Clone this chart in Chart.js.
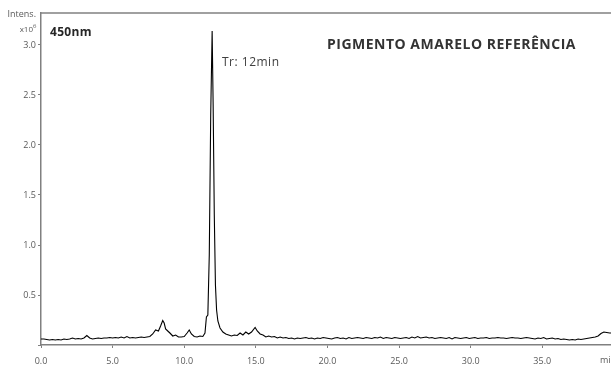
<!DOCTYPE html>
<html>
<head>
<meta charset="utf-8">
<script src="https://cdn.jsdelivr.net/npm/chart.js@4.4.1/dist/chart.umd.min.js"></script>
<style>
  html, body { margin: 0; padding: 0; background: #fff; }
  #chrom { display: block; }
</style>
</head>
<body>
<canvas id="chrom" width="611" height="365"></canvas>
<script>
// retention time (min) and intensity (x10^6)
const retentionTimes = [
  0.0, 0.2, 0.4, 0.6, 0.8, 1.0, 1.2, 1.4, 1.6, 1.8,
  2.0, 2.2, 2.4, 2.6, 2.8, 3.0, 3.2, 3.4, 3.6, 3.8,
  4.0, 4.2, 4.4, 4.6, 4.8, 5.0, 5.2, 5.4, 5.6, 5.8,
  6.0, 6.2, 6.4, 6.6, 6.8, 7.0, 7.2, 7.4, 7.6, 7.8,
  8.0, 8.2, 8.35, 8.5, 8.6, 8.7, 8.85, 9.0, 9.2, 9.4,
  9.6, 9.8, 10.0, 10.2, 10.35, 10.5, 10.7, 10.9, 11.1, 11.3,
  11.45, 11.55, 11.65, 11.75, 11.85, 11.95, 12.02, 12.1, 12.18, 12.26,
  12.35, 12.5, 12.7, 12.9, 13.1, 13.3, 13.5, 13.7, 13.9, 14.1,
  14.3, 14.5, 14.7, 14.95, 15.1, 15.3, 15.5, 15.7, 15.9, 16.1,
  16.3, 16.5, 16.7, 16.9, 17.1, 17.3, 17.5, 17.7, 17.9, 18.1,
  18.3, 18.5, 18.7, 18.9, 19.1, 19.3, 19.5, 19.7, 19.9, 20.1,
  20.3, 20.5, 20.7, 20.9, 21.1, 21.3, 21.5, 21.7, 21.9, 22.1,
  22.3, 22.5, 22.7, 22.9, 23.1, 23.3, 23.5, 23.7, 23.9, 24.1,
  24.3, 24.5, 24.7, 24.9, 25.1, 25.3, 25.5, 25.7, 25.9, 26.1,
  26.3, 26.5, 26.7, 26.9, 27.1, 27.3, 27.5, 27.7, 27.9, 28.1,
  28.3, 28.5, 28.7, 28.9, 29.1, 29.3, 29.5, 29.7, 29.9, 30.1,
  30.3, 30.5, 30.7, 30.9, 31.1, 31.3, 31.5, 31.7, 31.9, 32.1,
  32.3, 32.5, 32.7, 32.9, 33.1, 33.3, 33.5, 33.7, 33.9, 34.1,
  34.3, 34.5, 34.7, 34.9, 35.1, 35.3, 35.5, 35.7, 35.9, 36.1,
  36.3, 36.5, 36.7, 36.9, 37.1, 37.3, 37.5, 37.7, 37.9, 38.1,
  38.3, 38.5, 38.7, 38.9, 39.1, 39.3, 39.5, 39.7, 39.9
];
const intensities = [
  0.06, 0.06, 0.055, 0.05, 0.055, 0.05, 0.055, 0.05, 0.06, 0.055,
  0.06, 0.07, 0.06, 0.065, 0.06, 0.07, 0.095, 0.07, 0.06, 0.065,
  0.07, 0.065, 0.07, 0.07, 0.075, 0.07, 0.075, 0.07, 0.08, 0.07,
  0.085, 0.07, 0.075, 0.07, 0.075, 0.08, 0.075, 0.08, 0.085, 0.11,
  0.15, 0.14, 0.19, 0.245, 0.22, 0.16, 0.14, 0.12, 0.09, 0.10,
  0.08, 0.08, 0.085, 0.12, 0.15, 0.11, 0.085, 0.08, 0.09, 0.085,
  0.12, 0.28, 0.30, 0.9, 2.3, 3.14, 2.4, 1.3, 0.6, 0.35,
  0.24, 0.17, 0.13, 0.11, 0.10, 0.09, 0.10, 0.095, 0.12, 0.10,
  0.13, 0.11, 0.13, 0.175, 0.14, 0.11, 0.10, 0.08, 0.09, 0.08,
  0.085, 0.07, 0.08, 0.07, 0.075, 0.065, 0.07, 0.06, 0.07, 0.065,
  0.07, 0.075, 0.065, 0.07, 0.06, 0.07, 0.065, 0.075, 0.07, 0.065,
  0.06, 0.07, 0.075, 0.065, 0.07, 0.06, 0.075, 0.065, 0.07, 0.075,
  0.07, 0.065, 0.075, 0.07, 0.065, 0.075, 0.07, 0.08, 0.065, 0.075,
  0.07, 0.065, 0.075, 0.07, 0.065, 0.07, 0.075, 0.065, 0.08, 0.07,
  0.085, 0.07, 0.075, 0.08, 0.07, 0.075, 0.065, 0.07, 0.075, 0.07,
  0.065, 0.075, 0.06, 0.075, 0.07, 0.065, 0.07, 0.075, 0.065, 0.07,
  0.075, 0.065, 0.07, 0.07, 0.075, 0.065, 0.07, 0.07, 0.075, 0.07,
  0.07, 0.065, 0.07, 0.075, 0.07, 0.07, 0.065, 0.07, 0.075, 0.07,
  0.065, 0.06, 0.07, 0.065, 0.075, 0.06, 0.065, 0.07, 0.06, 0.065,
  0.055, 0.06, 0.055, 0.05, 0.055, 0.05, 0.06, 0.055, 0.06, 0.065,
  0.07, 0.075, 0.08, 0.09, 0.115, 0.13, 0.125, 0.12, 0.12
];
const xTicks = [0, 5, 10, 15, 20, 25, 30, 35];
const yTicks = [0, 0.5, 1.0, 1.5, 2.0, 2.5, 3.0];

const FONT = '"Open Sans", Lato, sans-serif';
const AXIS_GREY = '#808080';
const LABEL_GREY = '#595959';

// text that sits on top of the plot: units, wavelength, title, peak note
const overlayText = {
  id: 'overlayText',
  afterDraw(chart) {
    const ctx = chart.ctx;
    const area = chart.chartArea;
    ctx.save();

    // top frame line
    ctx.strokeStyle = AXIS_GREY;
    ctx.lineWidth = 1.5;
    ctx.beginPath();
    ctx.moveTo(area.left, area.top);
    ctx.lineTo(area.right, area.top);
    ctx.stroke();

    ctx.fillStyle = LABEL_GREY;
    ctx.textBaseline = 'middle';
    ctx.textAlign = 'right';
    ctx.font = '9px ' + FONT;
    ctx.fillText('Intens.', 36, 14);
    ctx.font = '8px ' + FONT;
    ctx.fillText('x10', 33, 30);
    ctx.font = '6px ' + FONT;
    ctx.textAlign = 'left';
    ctx.fillText('6', 33, 26);

    ctx.font = '9px ' + FONT;
    ctx.textAlign = 'left';
    ctx.fillText('min', 600, 360);

    ctx.fillStyle = '#262626';
    ctx.font = 'bold 12px ' + FONT;
    ctx.letterSpacing = '0.3px';
    ctx.fillText('450nm', 50, 33);

    ctx.fillStyle = '#333333';
    ctx.font = 'bold 14px ' + FONT;
    ctx.letterSpacing = '0.5px';
    ctx.fillText('PIGMENTO AMARELO REFERÊNCIA', 327, 45);

    ctx.fillStyle = '#404040';
    ctx.font = '12px ' + FONT;
    ctx.letterSpacing = '0.5px';
    ctx.fillText('Tr: 12min', 222, 63);

    ctx.restore();
  }
};

const points = retentionTimes.map((t, i) => ({ x: t, y: intensities[i] }));

new Chart(document.getElementById('chrom'), {
  type: 'line',
  data: {
    datasets: [{
      data: points,
      borderColor: '#000000',
      borderWidth: 1.1,
      pointRadius: 0,
      tension: 0,
      fill: false
    }]
  },
  options: {
    responsive: false,
    animation: false,
    layout: { padding: { top: 13, right: 0, left: 0, bottom: 0 } },
    plugins: {
      legend: { display: false },
      tooltip: { enabled: false }
    },
    scales: {
      x: {
        type: 'linear',
        min: 0,
        max: 39.8,
        afterBuildTicks: (scale) => { scale.ticks = xTicks.map(v => ({ value: v })); },
        afterFit: (scale) => { scale.height = 20; },
        border: { display: true, color: AXIS_GREY, width: 1.5 },
        grid: { display: true, drawOnChartArea: false, drawTicks: true, tickLength: 3, color: AXIS_GREY },
        ticks: {
          color: LABEL_GREY,
          font: { family: FONT, size: 9 },
          padding: 8,
          maxRotation: 0,
          autoSkip: false,
          callback: (v) => v.toFixed(1)
        }
      },
      y: {
        min: 0,
        max: 3.32,
        afterBuildTicks: (scale) => { scale.ticks = yTicks.map(v => ({ value: v })); },
        afterFit: (scale) => { scale.width = 41; },
        border: { display: true, color: AXIS_GREY, width: 1.5 },
        grid: { display: true, drawOnChartArea: false, drawTicks: true, tickLength: 3, color: AXIS_GREY },
        ticks: {
          color: LABEL_GREY,
          font: { family: FONT, size: 9 },
          padding: 2,
          autoSkip: false,
          callback: (v) => v === 0 ? '' : v.toFixed(1)
        }
      }
    }
  },
  plugins: [overlayText]
});
</script>
</body>
</html>
